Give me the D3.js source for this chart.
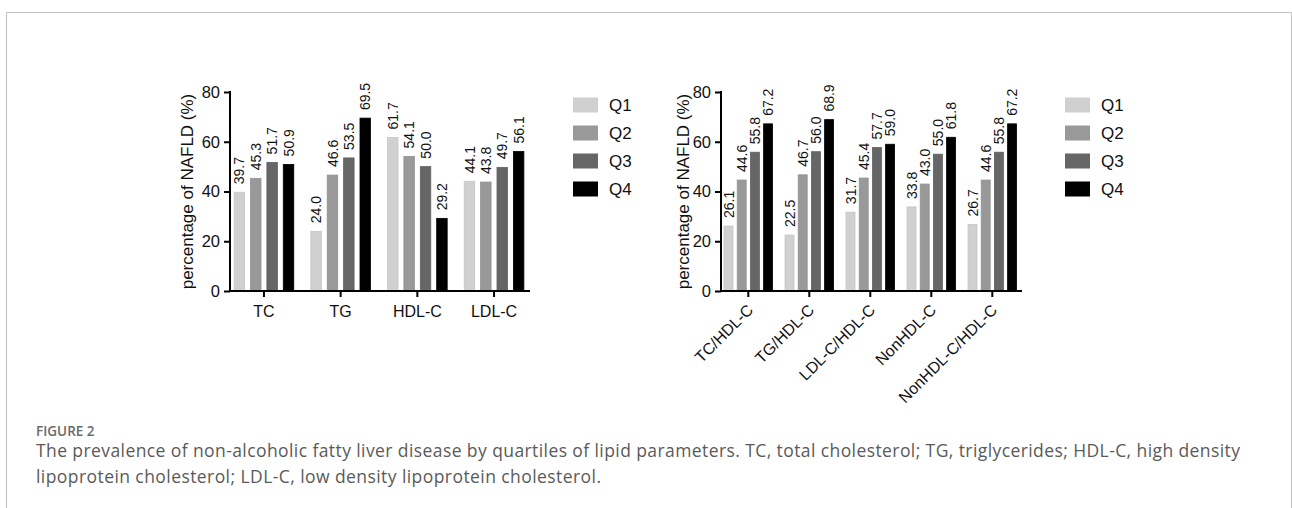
<!DOCTYPE html>
<html><head><meta charset="utf-8">
<script src="https://cdn.jsdelivr.net/npm/d3@7"></script>
<style>
html,body{margin:0;padding:0;background:#fff;}
svg{display:block;}
</style></head>
<body>
<svg id="c" width="1292" height="508"></svg>
<script>
// ---- data ----
const quartiles = ["Q1","Q2","Q3","Q4"];
const colors = ["#d0d0d0","#999999","#666666","#000000"];
const yTicks = [0,20,40,60,80];

const leftCategories = ["TC","TG","HDL-C","LDL-C"];
const leftQ1 = [39.7, 24.0, 61.7, 44.1];
const leftQ2 = [45.3, 46.6, 54.1, 43.8];
const leftQ3 = [51.7, 53.5, 50.0, 49.7];
const leftQ4 = [50.9, 69.5, 29.2, 56.1];

const rightCategories = ["TC/HDL-C","TG/HDL-C","LDL-C/HDL-C","NonHDL-C","NonHDL-C/HDL-C"];
const rightQ1 = [26.1, 22.5, 31.7, 33.8, 26.7];
const rightQ2 = [44.6, 46.7, 45.4, 43.0, 44.6];
const rightQ3 = [55.8, 56.0, 57.7, 55.0, 55.8];
const rightQ4 = [67.2, 68.9, 59.0, 61.8, 67.2];

const yTitle = "percentage of NAFLD (%)";
const figLabel = "FIGURE 2";
const captionLines = [
 "The prevalence of non-alcoholic fatty liver disease by quartiles of lipid parameters. TC, total cholesterol; TG, triglycerides; HDL-C, high density",
 "lipoprotein cholesterol; LDL-C, low density lipoprotein cholesterol."
];

const svg = d3.select("#c");
const FONT = "'Liberation Sans', Arial, sans-serif";

// frame
svg.append("path").attr("d","M6.5,508 V12.5 H1291.5 V508").attr("fill","none").attr("stroke","#c4c4c4").attr("stroke-width",1.2);

function drawChart(cfg){
  const {cats, series, axisX, axisEnd, bandStart, bandEnd, pin, pout, titleX, legendX, rotate} = cfg;
  const g = svg.append("g");
  const y = d3.scaleLinear().domain([0,80]).range([291,92]);
  const x = d3.scaleBand().domain(cats).range([bandStart,bandEnd]).paddingInner(0).paddingOuter(0);
  const xi = d3.scaleBand().domain(quartiles).range([0,x.bandwidth()]).paddingInner(pin).paddingOuter(pout);

  // bars
  cats.forEach((c,ci)=>{
    quartiles.forEach((q,qi)=>{
      const v = series[qi][ci];
      const bx = x(c)+xi(q);
      g.append("rect").attr("x",bx).attr("y",y(v)).attr("width",xi.bandwidth()).attr("height",y(0)-y(v))
        .attr("fill",colors[qi]).attr("stroke",qi===3?"#000":d3.color(colors[qi]).darker(0.15)).attr("stroke-width",0.8);
      const cx = bx+xi.bandwidth()/2;
      const ly = y(v)-8;
      g.append("text").attr("transform",`translate(${cx},${ly}) rotate(-90)`)
        .attr("dy","0.36em").attr("font-family",FONT).attr("font-size",14).attr("fill","#111")
        .text(v.toFixed(1));
    });
  });

  // y axis
  const ya = g.append("g").attr("transform",`translate(${axisX},0)`)
    .call(d3.axisLeft(y).tickValues(yTicks).tickSize(6).tickSizeOuter(0).tickPadding(4));
  ya.select(".domain").remove();
  ya.selectAll(".tick line").attr("stroke","#000").attr("stroke-width",2);
  ya.selectAll(".tick text").attr("font-family",FONT).attr("font-size",16.5).attr("fill","#111");
  g.append("line").attr("x1",axisX).attr("x2",axisX).attr("y1",y(80)-1).attr("y2",y(0)+1).attr("stroke","#000").attr("stroke-width",2);

  // x axis
  const xa = g.append("g").attr("transform",`translate(0,${y(0)})`)
    .call(d3.axisBottom(x).tickSize(6).tickSizeOuter(0).tickPadding(9));
  xa.select(".domain").remove();
  xa.selectAll(".tick line").attr("stroke","#000").attr("stroke-width",2);
  xa.selectAll(".tick text").attr("font-family",FONT).attr("font-size",16).attr("fill","#111");
  if(rotate){
    xa.selectAll(".tick text").attr("text-anchor","end").attr("x",0).attr("y",0).attr("dy","0.35em")
      .attr("transform","translate(2,16) rotate(-45)");
  }
  g.append("line").attr("x1",axisX-1).attr("x2",axisEnd).attr("y1",y(0)).attr("y2",y(0)).attr("stroke","#000").attr("stroke-width",2);

  // y title
  g.append("text").attr("transform",`translate(${titleX},${(y(0)+y(80))/2}) rotate(-90)`)
    .attr("text-anchor","middle").attr("font-family",FONT).attr("font-size",17).attr("fill","#111").text(yTitle);

  // legend
  const lg = g.append("g").attr("transform",`translate(${legendX},0)`);
  quartiles.forEach((q,qi)=>{
    const cy = 105 + qi*28;
    lg.append("rect").attr("x",0).attr("y",cy-7.5).attr("width",25).attr("height",15).attr("fill",colors[qi]);
    lg.append("text").attr("x",36).attr("y",cy).attr("dy","0.36em").attr("font-family",FONT).attr("font-size",17).attr("fill","#111").text(q);
  });
}

drawChart({cats:leftCategories, series:[leftQ1,leftQ2,leftQ3,leftQ4], axisX:230, axisEnd:530,
  bandStart:225.6, bandEnd:532.4, pin:0.36, pout:0.52, titleX:193, legendX:573, rotate:false});
drawChart({cats:rightCategories, series:[rightQ1,rightQ2,rightQ3,rightQ4], axisX:721, axisEnd:1022,
  bandStart:717.8, bandEnd:1022.8, pin:0.32, pout:0.47, titleX:689, legendX:1065, rotate:true});

// caption
svg.append("text").attr("x",36).attr("y",436).attr("font-family","'Open Sans', sans-serif").attr("font-weight",600)
  .attr("font-size",13.5).attr("fill","#6a6a6a").text(figLabel);
const capWidths = [1204, 565];
captionLines.forEach((t,i)=>{
  svg.append("text").attr("x",36).attr("y",457+i*26).attr("font-family","'Open Sans', sans-serif")
    .attr("font-size",17.5).attr("fill","#5a5a5a")
    .attr("textLength",capWidths[i]).attr("lengthAdjust","spacing").text(t);
});
</script>
</body></html>
